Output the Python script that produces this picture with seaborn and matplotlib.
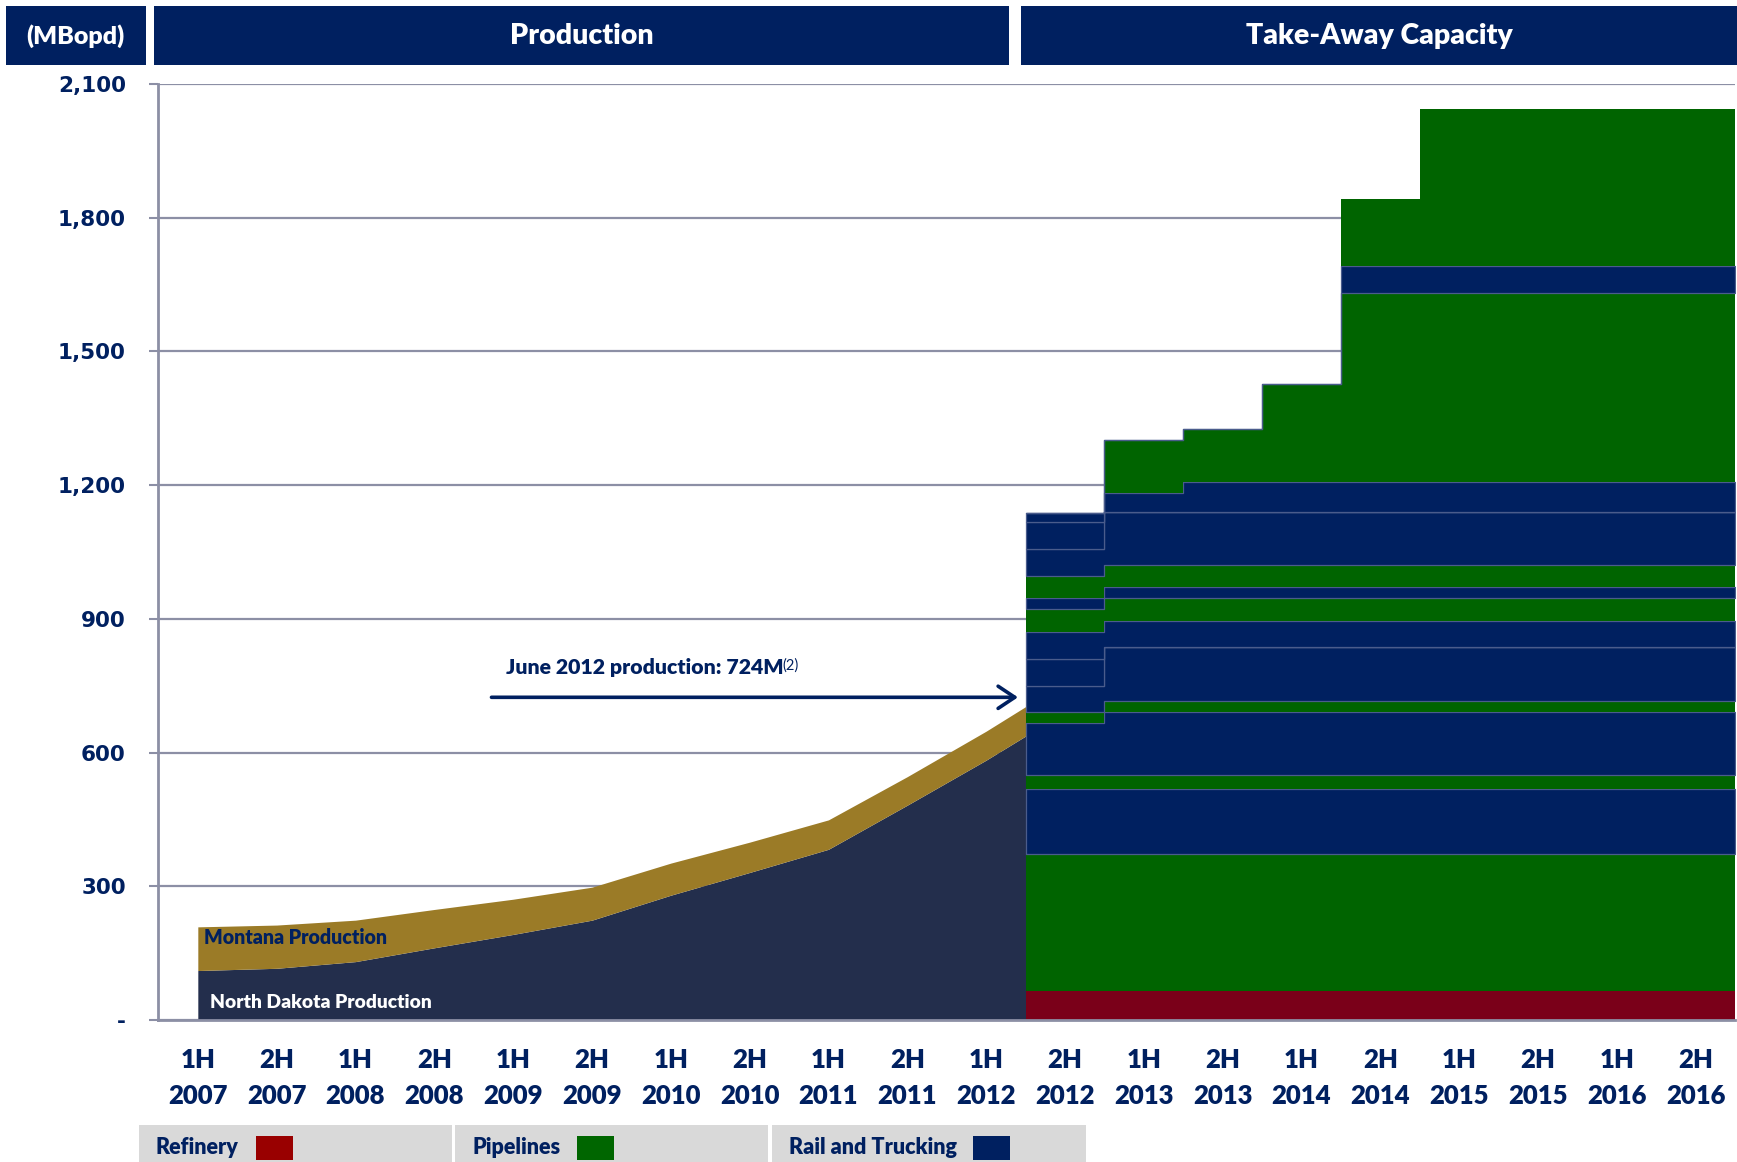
import numpy as np
import matplotlib
matplotlib.use("Agg")
import matplotlib.pyplot as plt
from matplotlib.patches import Rectangle
import seaborn as sns

# ---- data -------------------------------------------------------------
periods = ["1H\n2007", "2H\n2007", "1H\n2008", "2H\n2008", "1H\n2009",
           "2H\n2009", "1H\n2010", "2H\n2010", "1H\n2011", "2H\n2011",
           "1H\n2012", "2H\n2012", "1H\n2013", "2H\n2013", "1H\n2014",
           "2H\n2014", "1H\n2015", "2H\n2015", "1H\n2016", "2H\n2016"]

# production (MBopd) at half-year midpoints, last point = June 2012
prod_pos = [0, 1, 2, 3, 4, 5, 6, 7, 8, 9, 10, 10.5]
north_dakota = [111, 116, 131, 162, 192, 224, 280, 331, 383, 482, 583, 637]
montana = [98, 97, 93, 86, 79, 74, 72, 68, 66, 64, 65, 66]
june_2012_production = 724

# take-away capacity (MBopd), 2H 2012 .. 2H 2016, stacked bottom-up
cap_first = 11
refinery = [66, 66, 66, 66, 66, 66, 66, 66, 66]
pipeline_1 = [306, 306, 306, 306, 306, 306, 306, 306, 306]
rail_1 = [146, 146, 146, 146, 146, 146, 146, 146, 146]
pipeline_2 = [32, 32, 32, 32, 32, 32, 32, 32, 32]
rail_2 = [116, 142, 142, 142, 142, 142, 142, 142, 142]
pipeline_3 = [26, 24, 24, 24, 24, 24, 24, 24, 24]
rail_3 = [58, 120, 120, 120, 120, 120, 120, 120, 120]
rail_4 = [61, 0, 0, 0, 0, 0, 0, 0, 0]
rail_5 = [60, 60, 60, 60, 60, 60, 60, 60, 60]
pipeline_4 = [50, 50, 50, 50, 50, 50, 50, 50, 50]
rail_6 = [25, 25, 25, 25, 25, 25, 25, 25, 25]
pipeline_5 = [50, 50, 50, 50, 50, 50, 50, 50, 50]
rail_7 = [60, 119, 119, 119, 119, 119, 119, 119, 119]
rail_8 = [61, 0, 0, 0, 0, 0, 0, 0, 0]
rail_9 = [20, 42, 66, 66, 66, 66, 66, 66, 66]
pipeline_6 = [0, 119, 120, 221, 424, 424, 424, 424, 424]
rail_10 = [0, 0, 0, 0, 62, 62, 62, 62, 62]
pipeline_7 = [0, 0, 0, 0, 149, 351, 351, 351, 351]

capacity_layers = [
    ("Refinery", refinery), ("Pipelines", pipeline_1), ("Rail", rail_1),
    ("Pipelines", pipeline_2), ("Rail", rail_2), ("Pipelines", pipeline_3),
    ("Rail", rail_3), ("Rail", rail_4), ("Rail", rail_5),
    ("Pipelines", pipeline_4), ("Rail", rail_6), ("Pipelines", pipeline_5),
    ("Rail", rail_7), ("Rail", rail_8), ("Rail", rail_9),
    ("Pipelines", pipeline_6), ("Rail", rail_10), ("Pipelines", pipeline_7),
]

y_ticks = [0, 300, 600, 900, 1200, 1500, 1800, 2100]
y_labels = ["-", "300", "600", "900", "1,200", "1,500", "1,800", "2,100"]
legend_items = [("Refinery", "#990000"), ("Pipelines", "#006600"),
                ("Rail and Trucking", "#002060")]

# ---- style ------------------------------------------------------------
NAVY = "#002060"
GRID = "#8C8FA5"
ND_COLOR = "#232E4C"
MT_COLOR = "#9B7B27"
SEP = "#4A5C8C"
cap_colors = {"Refinery": "#7A0019", "Pipelines": "#006400", "Rail": "#002060"}
HEAVY = "heavy"

sns.set_theme(style="white")
plt.rcParams["font.family"] = ["Lato", "DejaVu Sans"]

W, H = 1737, 1162
fig = plt.figure(figsize=(W / 100, H / 100), dpi=100)
ax = fig.add_axes([158.4 / W, 1 - 1020 / H, (1735 - 158.4) / W, (1020 - 84) / H])


def fx(x):
    return x / W


def fy(y):
    return 1 - y / H


# ---- production areas -------------------------------------------------
nd = np.asarray(north_dakota, float)
tot = nd + np.asarray(montana, float)
ax.fill_between(prod_pos, 0, nd, facecolor=ND_COLOR, linewidth=0, zorder=2)
ax.fill_between(prod_pos, nd, tot, facecolor=MT_COLOR, linewidth=0, zorder=2)

# ---- capacity stacks ----------------------------------------------------
n_cap = len(periods) - cap_first
edges = np.arange(cap_first, len(periods) + 1) - 0.5
base = np.zeros(n_cap)
for kind, vals in capacity_layers:
    top = base + np.asarray(vals, float)
    ax.fill_between(edges, np.append(base, base[-1]), np.append(top, top[-1]),
                    step="post", facecolor=cap_colors[kind],
                    edgecolor=SEP if kind == "Rail" else "none",
                    linewidth=0.9, zorder=3)
    base = top

# ---- axes -------------------------------------------------------------
ax.set_xlim(-0.5, len(periods) - 0.5)
ax.set_ylim(0, 2100)
ax.set_yticks(y_ticks)
ax.set_yticklabels(y_labels, family=["DejaVu Sans"], fontweight="bold",
                   fontsize=15.5, color=NAVY)
ax.set_xticks(range(len(periods)))
ax.set_xticklabels(periods, fontweight=HEAVY, fontsize=18.5, color=NAVY,
                   linespacing=1.6)
ax.set_xticks(np.arange(len(periods) + 1) - 0.5, minor=True)
ax.tick_params(axis="x", which="major", length=0, pad=20)
ax.tick_params(axis="x", which="minor", length=6, width=1.5, color=GRID,
               direction="out")
ax.tick_params(axis="y", which="major", length=6.5, width=1.5, color=GRID,
               direction="out", pad=17, left=True)
ax.yaxis.grid(True, color=GRID, linewidth=1.6, zorder=0)
ax.xaxis.grid(False)
ax.set_axisbelow(True)
for side in ("top", "right"):
    ax.spines[side].set_visible(False)
for side in ("left", "bottom"):
    ax.spines[side].set_color(GRID)
    ax.spines[side].set_linewidth(2)
    ax.spines[side].set_zorder(5)

# ---- in-chart labels ----------------------------------------------------
ax.text(0.08, 186, "Montana Production", fontsize=14.1, fontweight=HEAVY,
        color=NAVY, va="center", ha="left", zorder=6)
ax.text(0.155, 40, "North Dakota Production", fontsize=13.9, fontweight=HEAVY,
        color="white", va="center", ha="left", zorder=6)

note = ax.text(3.91, 790, f"June 2012 production: {june_2012_production}M",
               fontsize=15.3, fontweight=HEAVY, color=NAVY, va="center",
               ha="left", zorder=6)
ax.annotate("(2)", xy=(0.997, 1.02), xycoords=note, fontsize=10.5, color=NAVY,
            va="top", ha="left", zorder=6)
ax.annotate("", xy=(10.44, june_2012_production), xytext=(3.69, june_2012_production),
            arrowprops=dict(arrowstyle="->, head_length=0.6, head_width=0.4",
                            color=NAVY, lw=2.6, mutation_scale=20), zorder=6)

# ---- header bars ----------------------------------------------------------
headers = [((5.5, 146), "(MBopd)", 18), ((154, 1009), "Production", 20.5),
           ((1021, 1737), "Take-Away Capacity", 20.5)]
for (x0, x1), label, size in headers:
    fig.add_artist(Rectangle((fx(x0), fy(65)), (x1 - x0) / W, 59 / H,
                             transform=fig.transFigure, facecolor=NAVY,
                             edgecolor="none"))
    fig.text(fx((x0 + x1) / 2), fy(36), label, color="white",
             fontweight=HEAVY, fontsize=size, ha="center", va="center")

# ---- legend strip ---------------------------------------------------------
legend_boxes = [(138.5, 452), (455, 768), (772, 1086)]
swatch_x = [256, 577, 973]
for (x0, x1), (label, color), sx in zip(legend_boxes, legend_items, swatch_x):
    fig.add_artist(Rectangle((fx(x0), fy(1162)), (x1 - x0) / W, 37 / H,
                             transform=fig.transFigure, facecolor="#D9D9D9",
                             edgecolor="none"))
    fig.text(fx(x0 + 17), fy(1147), label, color=NAVY, fontweight=HEAVY,
             fontsize=15.5, ha="left", va="center")
    fig.add_artist(Rectangle((fx(sx), fy(1160)), 37 / W, 24 / H,
                             transform=fig.transFigure, facecolor=color,
                             edgecolor="none"))

fig.savefig("out.png", dpi=100)
